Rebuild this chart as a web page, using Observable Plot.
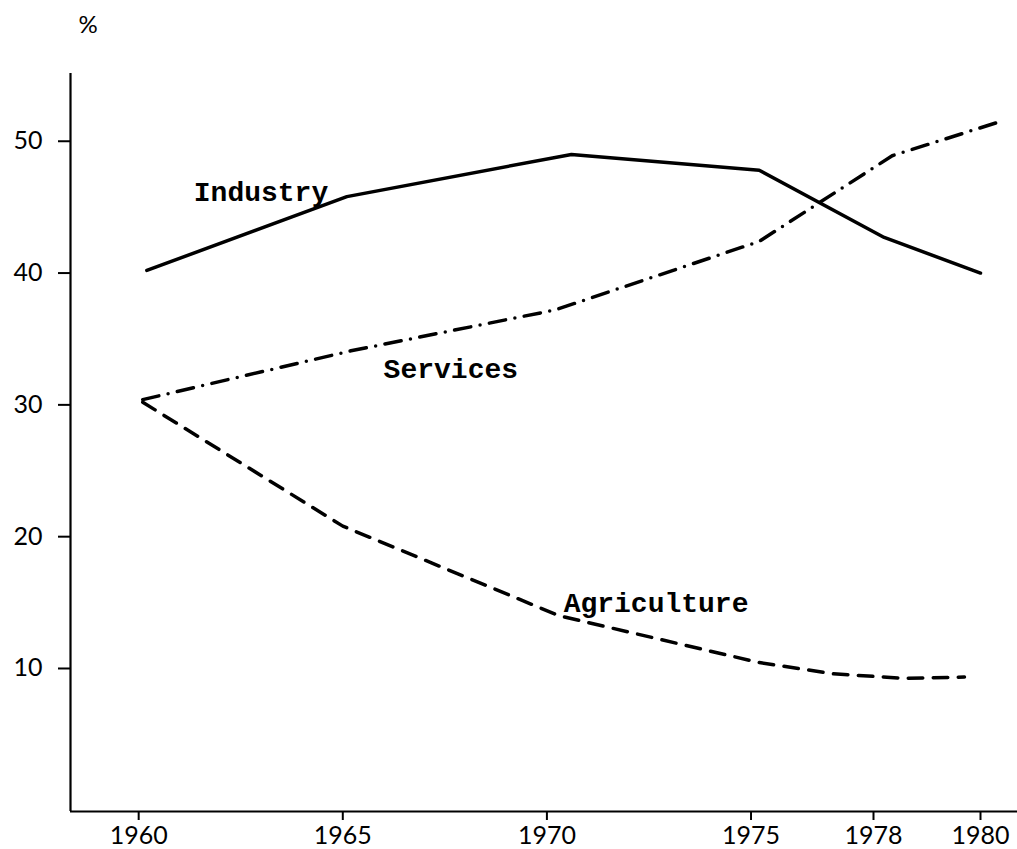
<!DOCTYPE html>
<html>
<head>
<meta charset="utf-8">
<script src="https://cdn.jsdelivr.net/npm/d3@7"></script>
<script src="https://cdn.jsdelivr.net/npm/@observablehq/plot@0.6"></script>
<style>
  html, body { margin: 0; padding: 0; background: #fff; }
  svg g[aria-label*="axis"] line, svg g[aria-label*="axis"] path { stroke-width: 2px; }
</style>
</head>
<body>
<div id="chart"></div>
<script>
// ---- data ----
const industryYears  = [1960.2, 1965.1, 1970.6, 1975.2, 1978.2, 1980.0];
const industryValues = [40.2, 45.8, 49.0, 47.8, 42.7, 40.0];

const servicesYears  = [1960.1, 1965.2, 1970.2, 1975.2, 1978.35, 1980.45];
const servicesValues = [30.4, 34.1, 37.2, 42.4, 48.9, 51.6];

const agricultureYears  = [1960.1, 1965.0, 1970.3, 1975.2, 1977.0, 1978.6, 1979.7];
const agricultureValues = [30.2, 20.8, 14.0, 10.45, 9.6, 9.25, 9.35];

const labelNames  = ["Industry", "Services", "Agriculture"];
const labelYears  = [1961.35, 1966.0, 1970.41];
const labelValues = [46.16, 32.69, 14.93];

const xTicks = [1960, 1965, 1970, 1975, 1978, 1980];
const yTicks = [10, 20, 30, 40, 50];
const unitLabel = ["%"];

// axis extents (the printed axis runs a bit beyond the data)
const xDomain = [1958.33, 1978, 1980, 1980.69];
const yDomain = [-0.85, 55.14];

const toRows = (xs, ys) => xs.map((x, i) => ({year: x, value: ys[i]}));
const industry = toRows(industryYears, industryValues);
const services = toRows(servicesYears, servicesValues);
const agriculture = toRows(agricultureYears, agricultureValues);

const chart = Plot.plot({
  width: 1017,
  height: 849,
  marginLeft: 70,
  marginRight: 0,
  marginTop: 73,
  marginBottom: 38,
  style: {fontFamily: "Lato", fontSize: "25px", color: "black", background: "white", overflow: "visible"},
  x: {
    type: "linear",
    domain: xDomain,
    range: [70, 873, 980, 1017],   // the printed year axis is stretched after 1978
    ticks: xTicks,
    tickFormat: d => String(d),
    tickSize: 9,
    tickPadding: 6,
    label: null
  },
  y: {
    domain: yDomain,
    ticks: yTicks,
    tickSize: 12,
    tickPadding: 16,
    label: null
  },
  marks: [
    Plot.ruleY([yDomain[0]], {stroke: "black", strokeWidth: 2.2}),
    Plot.ruleX([xDomain[0]], {stroke: "black", strokeWidth: 2.2}),
    Plot.line(industry, {x: "year", y: "value", stroke: "black", strokeWidth: 3.5, strokeLinecap: "round", strokeLinejoin: "round"}),
    Plot.line(services, {x: "year", y: "value", stroke: "black", strokeWidth: 3.5, strokeLinecap: "round", strokeLinejoin: "round", strokeDasharray: "16.5,9.5,0,9.5"}),
    Plot.line(agriculture, {x: "year", y: "value", stroke: "black", strokeWidth: 3.5, strokeLinecap: "round", strokeLinejoin: "round", strokeDasharray: "14.5,10.5"}),
    Plot.text(labelNames, {x: labelYears, y: labelValues, text: labelNames, textAnchor: "start", fontFamily: "Liberation Mono", fontSize: 28, fontWeight: "bold", fill: "black"}),
    Plot.text(unitLabel, {text: d => d, frameAnchor: "top-left", dx: 8, dy: -58, fontFamily: "Lato", fontSize: 24, fill: "black"})
  ]
});
document.getElementById("chart").appendChild(chart);
</script>
</body>
</html>
